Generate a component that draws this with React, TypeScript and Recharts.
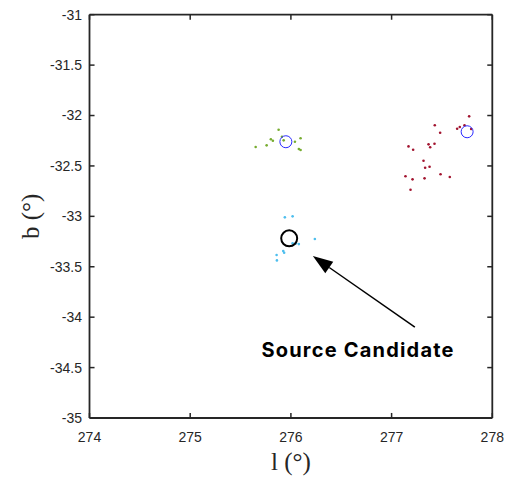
import { ScatterChart, Scatter, XAxis, YAxis, ReferenceLine, ReferenceDot, Label } from 'recharts';

// galactic longitude / latitude ticks
const lTicks = [274, 275, 276, 277, 278];
const bTicks = [-35, -34.5, -34, -33.5, -33, -32.5, -32, -31.5, -31];

// event clusters (l, b in degrees)
const greenCluster = [
  { l: 275.878, b: -32.141 },
  { l: 275.801, b: -32.236 },
  { l: 275.821, b: -32.25 },
  { l: 275.65, b: -32.312 },
  { l: 275.759, b: -32.296 },
  { l: 275.928, b: -32.246 },
  { l: 276.04, b: -32.26 },
  { l: 276.096, b: -32.226 },
  { l: 276.079, b: -32.332 },
  { l: 276.096, b: -32.342 },
  { l: 275.911, b: -32.21 },
];

const redCluster = [
  { l: 277.77, b: -32.008 },
  { l: 277.724, b: -32.097 },
  { l: 277.677, b: -32.114 },
  { l: 277.651, b: -32.131 },
  { l: 277.79, b: -32.134 },
  { l: 277.429, b: -32.097 },
  { l: 277.482, b: -32.171 },
  { l: 277.168, b: -32.306 },
  { l: 277.214, b: -32.339 },
  { l: 277.367, b: -32.286 },
  { l: 277.383, b: -32.315 },
  { l: 277.426, b: -32.28 },
  { l: 277.317, b: -32.448 },
  { l: 277.377, b: -32.508 },
  { l: 277.333, b: -32.518 },
  { l: 277.138, b: -32.603 },
  { l: 277.208, b: -32.633 },
  { l: 277.327, b: -32.623 },
  { l: 277.486, b: -32.583 },
  { l: 277.578, b: -32.61 },
  { l: 277.188, b: -32.736 },
];

const cyanCluster = [
  { l: 275.94, b: -33.01 },
  { l: 276.017, b: -33.0 },
  { l: 276.017, b: -33.268 },
  { l: 276.079, b: -33.275 },
  { l: 276.238, b: -33.225 },
  { l: 275.858, b: -33.384 },
  { l: 275.861, b: -33.437 },
  { l: 275.924, b: -33.344 },
  { l: 275.933, b: -33.361 },
  { l: 276.05, b: -33.268 },
];

// cluster centroids and the candidate position
const clusterCentres = [
  { l: 275.95, b: -32.26 },
  { l: 277.75, b: -32.161 },
];
const candidate = [{ l: 275.983, b: -33.218 }];

// annotation arrow: tail -> head
const arrowTail = { l: 277.231, b: -34.098 };
const arrowHead = { l: 276.218, b: -33.394 };
const labelPos = { l: 276.667, b: -34.321 };

const AXIS = '#262626';
const TICK_L = 0.05; // inward tick length, in axis units

const dot = (color: string) => (props: any) => (
  <circle cx={props.cx} cy={props.cy} r={1.3} fill={color} />
);

const ring = (color: string, r: number, w: number) => (props: any) => (
  <circle cx={props.cx} cy={props.cy} r={r} fill="none" stroke={color} strokeWidth={w} />
);

const Arrow = (props: any) => {
  const { x1, y1, x2, y2 } = props;
  const ang = Math.atan2(y2 - y1, x2 - x1);
  const len = 20;
  const half = 7;
  const bx = x2 - len * Math.cos(ang);
  const by = y2 - len * Math.sin(ang);
  const px = -Math.sin(ang) * half;
  const py = Math.cos(ang) * half;
  return (
    <g>
      <line x1={x1} y1={y1} x2={bx} y2={by} stroke="#000" strokeWidth={1.5} />
      <polygon points={`${x2},${y2} ${bx + px},${by + py} ${bx - px},${by - py}`} fill="#000" />
    </g>
  );
};

const tickStyle = { fill: AXIS, fontSize: 14, fontFamily: 'Liberation Sans, Arial, sans-serif' };
const lineStyle = { stroke: AXIS, strokeWidth: 1.8 };

export default function App() {
  return (
    <div>
      <style>{'body{margin:0;overflow:hidden}'}</style>
      <ScatterChart
        width={505}
        height={481}
        margin={{ top: 14.7, right: 12.7, bottom: 0, left: 0 }}
        style={{ overflow: 'visible' }}
      >
        <XAxis
          dataKey="l"
          type="number"
          domain={[274, 278]}
          ticks={lTicks}
          height={63}
          tickSize={0}
          tickMargin={14}
          tick={tickStyle}
          axisLine={lineStyle}
          tickLine={false}
          allowDataOverflow
        >
          <Label
            content={(p: any) => {
              const { x, width } = p.viewBox;
              return (
                <text
                  x={x + width / 2}
                  y={470}
                  textAnchor="middle"
                  fontFamily="Liberation Serif, Times New Roman, serif"
                  fontSize={25}
                  fill={AXIS}
                >
                  l (°)
                </text>
              );
            }}
          />
        </XAxis>
        <YAxis
          dataKey="b"
          type="number"
          domain={[-35, -31]}
          ticks={bTicks}
          width={89.5}
          tickSize={0}
          tickMargin={7.5}
          tick={tickStyle}
          axisLine={lineStyle}
          tickLine={false}
          allowDataOverflow
        >
          <Label
            content={(p: any) => {
              const { y, height } = p.viewBox;
              const cy = y + height / 2;
              return (
                <text
                  x={39}
                  y={cy}
                  transform={`rotate(-90 39 ${cy})`}
                  textAnchor="middle"
                  fontFamily="Liberation Serif, Times New Roman, serif"
                  fontSize={25}
                  fill={AXIS}
                >
                  b (°)
                </text>
              );
            }}
          />
        </YAxis>

        {/* closing frame */}
        <ReferenceLine y={-31} stroke={AXIS} strokeWidth={1.8} />
        <ReferenceLine x={278} stroke={AXIS} strokeWidth={1.8} />

        {/* inward ticks on all four sides */}
        {lTicks.map((t) => (
          <ReferenceLine key={`lb${t}`} segment={[{ x: t, y: -35 }, { x: t, y: -35 + TICK_L }]} stroke={AXIS} strokeWidth={1.5} />
        ))}
        {lTicks.map((t) => (
          <ReferenceLine key={`lt${t}`} segment={[{ x: t, y: -31 }, { x: t, y: -31 - TICK_L }]} stroke={AXIS} strokeWidth={1.5} />
        ))}
        {bTicks.map((t) => (
          <ReferenceLine key={`bl${t}`} segment={[{ x: 274, y: t }, { x: 274 + TICK_L, y: t }]} stroke={AXIS} strokeWidth={1.5} />
        ))}
        {bTicks.map((t) => (
          <ReferenceLine key={`br${t}`} segment={[{ x: 278, y: t }, { x: 278 - TICK_L, y: t }]} stroke={AXIS} strokeWidth={1.5} />
        ))}

        <Scatter data={greenCluster} shape={dot('#77AC30')} isAnimationActive={false} />
        <Scatter data={redCluster} shape={dot('#A2142F')} isAnimationActive={false} />
        <Scatter data={cyanCluster} shape={dot('#4DBEEE')} isAnimationActive={false} />
        <Scatter data={clusterCentres} shape={ring('#2a2aff', 6, 1)} isAnimationActive={false} />
        <Scatter data={candidate} shape={ring('#000', 8, 2)} isAnimationActive={false} />

        <ReferenceLine
          segment={[
            { x: arrowTail.l, y: arrowTail.b },
            { x: arrowHead.l, y: arrowHead.b },
          ]}
          shape={Arrow}
        />
        <ReferenceDot x={labelPos.l} y={labelPos.b} r={0} fill="none" stroke="none">
          <Label
            value="Source Candidate"
            position="center"
            fill="#000"
            fontSize={20}
            fontWeight={700}
            letterSpacing={1.2}
            fontFamily="Inter, sans-serif"
          />
        </ReferenceDot>
      </ScatterChart>
    </div>
  );
}
